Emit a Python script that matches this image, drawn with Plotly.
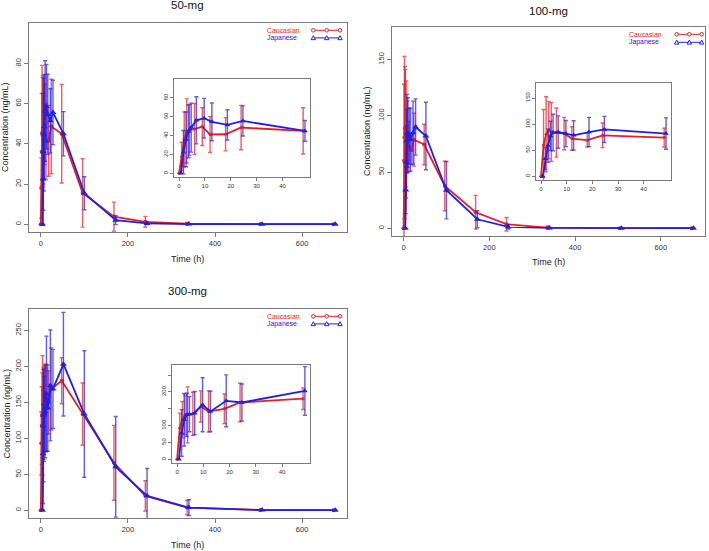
import plotly.graph_objects as go

W, H = 709, 551

# ---------------- data ----------------
TIMES = [0, 1, 2, 3, 4, 6, 9, 12, 18, 24, 48, 96, 168, 240, 336, 504, 672]
INSET_MAX_T = 48

PANEL_TITLES = ["50-mg", "100-mg", "300-mg"]
GROUPS = ["Caucasian", "Japanese"]

CAU_50_MEAN = [0, 18, 36, 45, 46, 47, 49.6, 41.2, 41.5, 48.6, 45, 15.6, 3.8, 1.2, 0.3, 0.1, 0.05]
CAU_50_SD = [0, 15, 29, 34, 27, 27, 20, 19, 17.6, 23.5, 24.5, 17, 7.2, 2.7, 0.6, 0.2, 0.1]
JPN_50_MEAN = [0, 22.5, 36, 44.5, 48.5, 56.3, 58.5, 54.6, 51.4, 55.6, 45, 15.4, 2, 0.4, 0.1, 0.05, 0.05]
JPN_50_SD = [0, 23, 29, 28, 26, 25, 21, 20, 16, 16, 11, 8.2, 2.2, 0.6, 0.2, 0.1, 0.1]

CAU_100_MEAN = [0, 60, 80.6, 88.7, 85, 84, 82, 72.5, 69.4, 78.7, 74.4, 37.6, 14.2, 3.6, 0.6, 0.1, 0.1]
CAU_100_SD = [0, 68, 72, 55, 56, 47, 31, 22.5, 13, 23.5, 18, 22, 15, 6, 1.2, 0.2, 0.2]
JPN_100_MEAN = [0, 34, 59, 77.5, 84, 85, 82, 78.7, 85, 90, 82, 33.8, 8, 1.2, 0.3, 0.1, 0.1]
JPN_100_SD = [0, 21, 32, 28, 35, 31, 25, 28, 28, 25, 30, 25.5, 7.5, 2, 0.5, 0.2, 0.2]

CAU_300_MEAN = [0, 93, 117.6, 132, 132, 135, 157, 142, 150, 168.6, 180, 133.8, 66, 20, 3.7, 0.3, 0.1]
CAU_300_SD = [0, 44, 54, 59, 83, 64, 46, 61, 44, 57, 32, 43, 52, 21, 10, 0.6, 0.2]
JPN_300_MEAN = [0, 78.4, 117.6, 132, 134, 137, 162, 142, 173.5, 168.6, 203, 133.8, 60.4, 20, 3.7, 0.3, 0.1]
JPN_300_SD = [0, 69, 78, 64, 52, 64, 80, 60, 77, 55, 72, 88, 70, 38, 11, 0.6, 0.2]

MEANS = [[CAU_50_MEAN, JPN_50_MEAN], [CAU_100_MEAN, JPN_100_MEAN], [CAU_300_MEAN, JPN_300_MEAN]]
SDS = [[CAU_50_SD, JPN_50_SD], [CAU_100_SD, JPN_100_SD], [CAU_300_SD, JPN_300_SD]]

YLIM_TOP = [96.2, 172, 269]
X_TICKS_MAIN = [0, 200, 400, 600]
X_TICKS_INSET = [0, 10, 20, 30, 40]
Y_TICKS_MAIN = [[0, 20, 40, 60, 80], [0, 50, 100, 150], [0, 50, 100, 150, 200, 250]]
Y_TICKS_INSET = [[0, 20, 40, 60, 80], [0, 50, 100, 150], [0, 50, 100, 150, 200, 250]]
Y_TICKTEXT_INSET = [["0", "20", "40", "60", "80"], ["0", "50", "100", "150"],
                    ["0", "50", "100", "", "200", ""]]

X_TITLE = "Time (h)"
Y_TITLE = "Concentration (ng/mL)"

# ---------------- style / layout ----------------
RED = "rgb(232,30,38)"
BLUE = "rgb(32,32,228)"
RED_BAR = "rgba(232,30,38,0.72)"
BLUE_BAR = "rgba(32,32,228,0.72)"
COLORS = [RED, BLUE]
BAR_COLORS = [RED_BAR, BLUE_BAR]
SYMBOLS = ["circle", "triangle-up"]
MSIZE = [4, 6]
OFF_MAIN = 4.0    # horizontal nudge of the Japanese series (h)
OFF_INSET = 0.7
FONT = "Liberation Sans, Arial, sans-serif"
BOXCOL = "#7a7a7a"
TICKCOL = "#333333"

# pixel boxes (left, right, top, bottom)
MAIN_BOX = [(29, 347, 23, 232), (392, 705, 27, 236), (29, 347, 309, 518)]
INSET_BOX = [(174, 310, 79, 177), (536, 671, 83, 180), (172, 310, 365, 463)]
TITLE_Y = [5.5, 10.8, 291.3]
XTITLE_Y = [259, 262, 545]
YTITLE_X = [5.5, 367.5, 6]
LEG_TEXT_DX = [81, 77, 81]
LEG_ROW_DY = [7.6, 8, 7.6]
LEG_SYM_DX = [[33.7, 20.3, 7], [28.3, 15.7, 3.3], [33.7, 20.3, 7]]


def px(x):
    return x / W


def py(y):
    return 1 - y / H


fig = go.Figure()
layout = dict()
annotations = []
shapes = []

for p in range(3):
    for k, inset in enumerate([False, True]):
        idx = 2 * p + k + 1
        xname = "x" if idx == 1 else f"x{idx}"
        yname = "y" if idx == 1 else f"y{idx}"
        box = INSET_BOX[p] if inset else MAIN_BOX[p]
        off = OFF_INSET if inset else OFF_MAIN
        xs_all = []
        for g in range(2):
            xs, ys, es = [], [], []
            for t, m, s in zip(TIMES, MEANS[p][g], SDS[p][g]):
                if inset and t > INSET_MAX_T:
                    continue
                xs.append(t + off * g)
                ys.append(m)
                es.append(s)
            xs_all += xs
            fig.add_trace(go.Scatter(
                x=xs, y=ys, xaxis=xname, yaxis=yname, mode="lines+markers",
                name=GROUPS[g], showlegend=False, hoverinfo="skip",
                line=dict(color=COLORS[g], width=1.8),
                marker=dict(color=COLORS[g], symbol=SYMBOLS[g], size=MSIZE[g] - (1 if inset else 0),
                            line=dict(width=0)),
                error_y=dict(type="data", array=es, visible=True, color=BAR_COLORS[g],
                             thickness=1.4, width=2),
            ))
        xmax = max(xs_all)
        xr = [-0.04 * xmax, 1.04 * xmax]
        ytop = YLIM_TOP[p]
        yr = [-0.04 * ytop, 1.04 * ytop]
        tfs = 6 if inset else 7.5
        layout[xname.replace("x", "xaxis")] = dict(
            domain=[px(box[0]), px(box[1])], range=xr, anchor=yname,
            tickvals=X_TICKS_INSET if inset else X_TICKS_MAIN,
            ticks="outside", ticklen=3 if inset else 4, tickcolor=BOXCOL, tickwidth=1,
            showline=True, mirror=True, linecolor=BOXCOL, linewidth=1,
            showgrid=False, zeroline=False, tickfont=dict(family=FONT, size=tfs, color=TICKCOL),
        )
        ydict = dict(
            domain=[py(box[3]), py(box[2])], range=yr, anchor=xname,
            tickvals=Y_TICKS_INSET[p] if inset else Y_TICKS_MAIN[p],
            ticks="outside", ticklen=3 if inset else 4, tickcolor=BOXCOL, tickwidth=1,
            tickangle=-90,
            showline=True, mirror=True, linecolor=BOXCOL, linewidth=1,
            showgrid=False, zeroline=False, tickfont=dict(family=FONT, size=tfs, color=TICKCOL),
        )
        if inset:
            ydict["ticktext"] = Y_TICKTEXT_INSET[p]
        layout[yname.replace("y", "yaxis")] = ydict

    # titles and axis titles
    mb = MAIN_BOX[p]
    cx = (mb[0] + mb[1]) / 2
    cy = (mb[2] + mb[3]) / 2
    annotations.append(dict(x=px(cx), y=py(TITLE_Y[p]), xref="paper", yref="paper",
                            text=PANEL_TITLES[p], showarrow=False, xanchor="center", yanchor="middle",
                            font=dict(family=FONT, size=11.5, color="#111111")))
    annotations.append(dict(x=px(cx), y=py(XTITLE_Y[p]), xref="paper", yref="paper",
                            text=X_TITLE, showarrow=False, xanchor="center", yanchor="middle",
                            font=dict(family=FONT, size=9, color="#222222")))
    annotations.append(dict(x=px(YTITLE_X[p]), y=py(cy), xref="paper", yref="paper",
                            text=Y_TITLE, showarrow=False, xanchor="center", yanchor="middle",
                            textangle=-90, font=dict(family=FONT, size=9, color="#222222")))
    # legend
    for g in range(2):
        ry = mb[2] + 7.3 + LEG_ROW_DY[p] * g
        annotations.append(dict(x=px(mb[1] - LEG_TEXT_DX[p]), y=py(ry), xref="paper", yref="paper",
                                text=GROUPS[g], showarrow=False, xanchor="left", yanchor="middle",
                                borderpad=0,
                                font=dict(family=FONT, size=6.9, color=COLORS[g])))
        sx = [mb[1] - d for d in LEG_SYM_DX[p]]
        shapes.append(dict(type="line", xref="paper", yref="paper",
                           x0=px(sx[0]), x1=px(sx[-1]), y0=py(ry), y1=py(ry),
                           line=dict(color=COLORS[g], width=1)))
        for s in sx:
            if g == 0:
                r = 1.8
                shapes.append(dict(type="circle", xref="paper", yref="paper",
                                   x0=px(s - r), x1=px(s + r), y0=py(ry + r), y1=py(ry - r),
                                   line=dict(color=COLORS[g], width=1), fillcolor="white"))
            else:
                r = 2.2
                path = (f"M {px(s - r)} {py(ry + r * 0.8)} L {px(s + r)} {py(ry + r * 0.8)} "
                        f"L {px(s)} {py(ry - r)} Z")
                shapes.append(dict(type="path", xref="paper", yref="paper", path=path,
                                   line=dict(color=COLORS[g], width=1), fillcolor="white"))

fig.update_layout(
    width=W, height=H, autosize=False,
    margin=dict(l=0, r=0, t=0, b=0),
    paper_bgcolor="white", plot_bgcolor="white",
    showlegend=False, hovermode=False,
    annotations=annotations, shapes=shapes,
    font=dict(family=FONT),
    **layout,
)

fig.write_html("out.html", config={"displayModeBar": False, "staticPlot": True},
               post_script="document.body.style.margin='0px';")
